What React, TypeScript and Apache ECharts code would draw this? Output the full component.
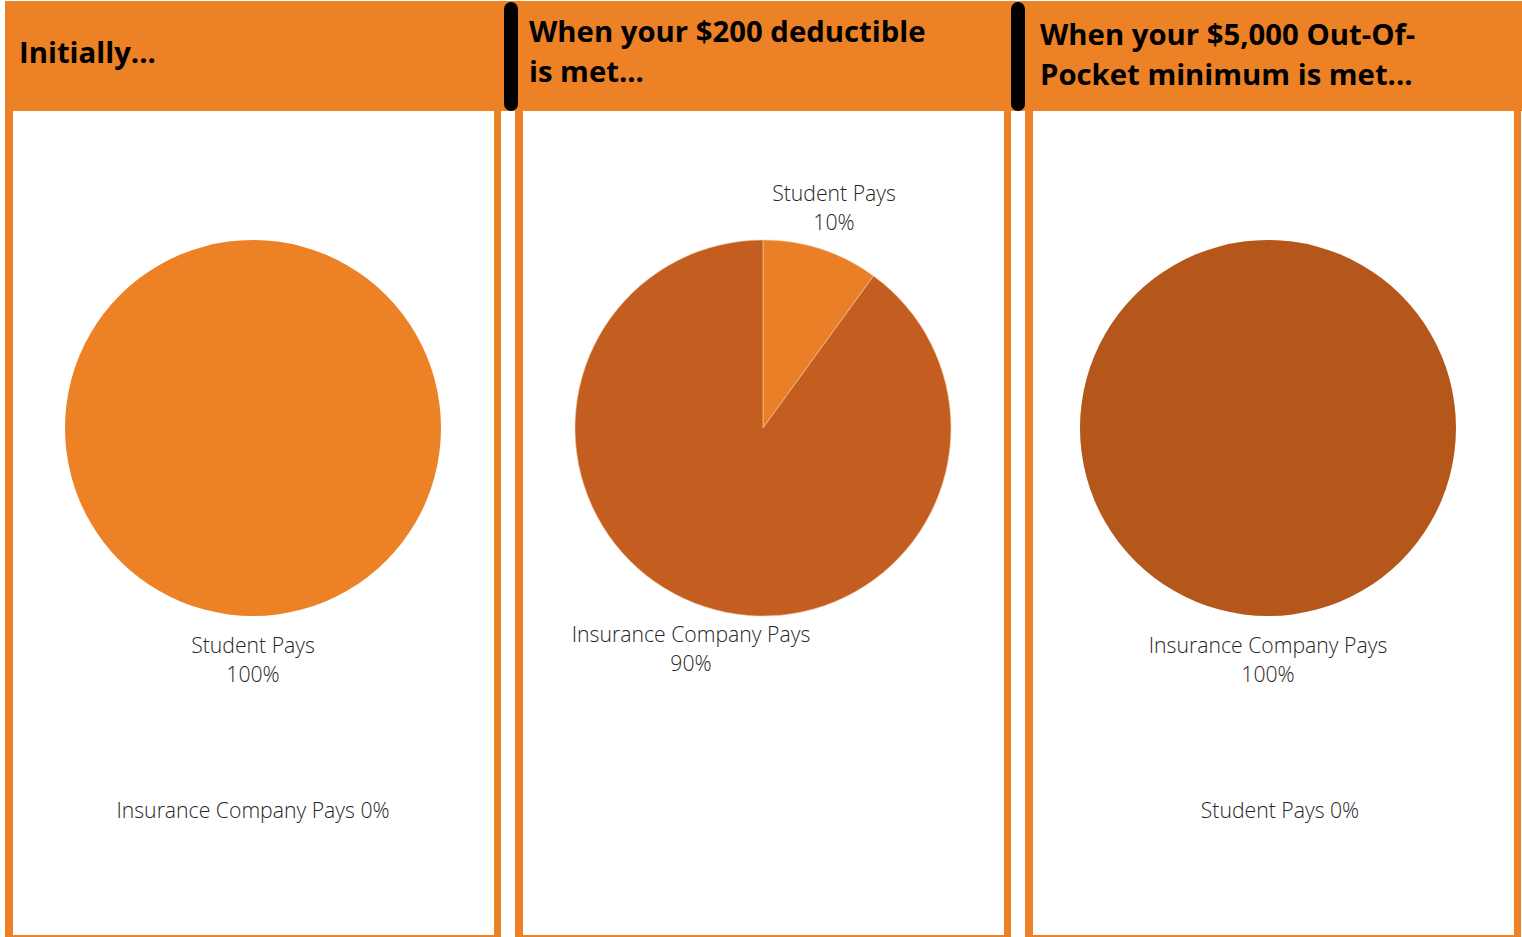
import React, { useEffect, useRef } from "react";
import * as echarts from "echarts";

const titles = [
  "Initially...",
  "When your $200 deductible\nis met...",
  "When your $5,000 Out-Of-\nPocket minimum is met...",
];
const categories1 = ["Student Pays", "Insurance Company Pays"];
const values1 = [100, 0];
const categories2 = ["Student Pays", "Insurance Company Pays"];
const values2 = [10, 90];
const categories3 = ["Insurance Company Pays", "Student Pays"];
const values3 = [100, 0];

const colors1 = ["#EC8126", "#C45E20"];
const colors2 = ["#E98027", "#C45E20"];
const colors3 = ["#B5561A", "#EC8126"];

const ORANGE = "#EC8126";
const panelX = [5, 515, 1025];
const PANEL_W = 496;
const pieCenters = [253, 763, 1268];
const labelPos = [
  [[253, 659], [253, 809]],
  [[834, 207], [691, 648]],
  [[1268, 659], [1280, 809]],
];
const titlePos = [
  [19, 52],
  [529, 51],
  [1040, 54],
];

export default function App() {
  const ref = useRef<HTMLDivElement>(null);
  useEffect(() => {
    if (!ref.current) return;
    const chart = echarts.init(ref.current, null, { renderer: "svg" });
    const graphics: any[] = [];
    graphics.push({
      type: "rect",
      shape: { x: 5, y: 1, width: 1517, height: 110 },
      style: { fill: ORANGE },
      z: -10,
    });
    panelX.forEach((x) => {
      graphics.push({
        type: "rect",
        shape: { x, y: 1, width: PANEL_W, height: 936 },
        style: { fill: ORANGE },
        z: -10,
      });
      graphics.push({
        type: "rect",
        shape: { x: x + 8, y: 111, width: PANEL_W - 15, height: 824 },
        style: { fill: "#ffffff" },
        z: -9,
      });
    });
    [504, 1011].forEach((x) => {
      graphics.push({
        type: "rect",
        shape: { x, y: 2, width: 14, height: 109, r: 7 },
        style: { fill: "#000000" },
        z: -8,
      });
    });
    titles.forEach((t, i) => {
      graphics.push({
        type: "text",
        x: titlePos[i][0],
        y: titlePos[i][1],
        style: {
          text: t,
          fill: "#000000",
          font: "bold 29.3px 'Open Sans'",
          lineHeight: 40,
          verticalAlign: "middle",
          align: "left",
        },
        z: 10,
      });
    });

    const datasets = [
      [categories1, values1, colors1],
      [categories2, values2, colors2],
      [categories3, values3, colors3],
    ] as const;

    const series = datasets.map(([cats, vals, cols], si) => ({
      type: "pie",
      center: [pieCenters[si], 428],
      radius: [0, 188],
      startAngle: 90,
      clockwise: true,
      avoidLabelOverlap: false,
      stillShowZeroSum: true,
      data: (cats as readonly string[]).map((c, i) => ({
        name: c,
        value: (vals as readonly number[])[i],
        itemStyle: { color: (cols as readonly string[])[i] },
      })),
      itemStyle: si === 1 ? { borderColor: "#f4c9a8", borderWidth: 0.6 } : { borderWidth: 0 },
      label: {
        show: true,
        color: "#262626",
        fontFamily: "'Open Sans'",
        fontWeight: 300,
        fontSize: 21.2,
        lineHeight: 29,
        align: "center",
        formatter: (p: any) =>
          p.value === 0 ? `${p.name} ${Math.round(p.percent)}%` : `${p.name}\n${Math.round(p.percent)}%`,
      },
      labelLine: { show: false },
      labelLayout: (params: any) => {
        const pos = labelPos[si][params.dataIndex];
        return { x: pos[0], y: pos[1], align: "center", verticalAlign: "middle" };
      },
      emphasis: { disabled: true },
    }));

    chart.setOption({
      animation: false,
      backgroundColor: "#ffffff",
      graphic: graphics,
      series,
    });
    return () => chart.dispose();
  }, []);
  return (
    <div
      ref={ref}
      style={{ position: "absolute", left: 0, top: 0, width: 1522, height: 937 }}
    />
  );
}
